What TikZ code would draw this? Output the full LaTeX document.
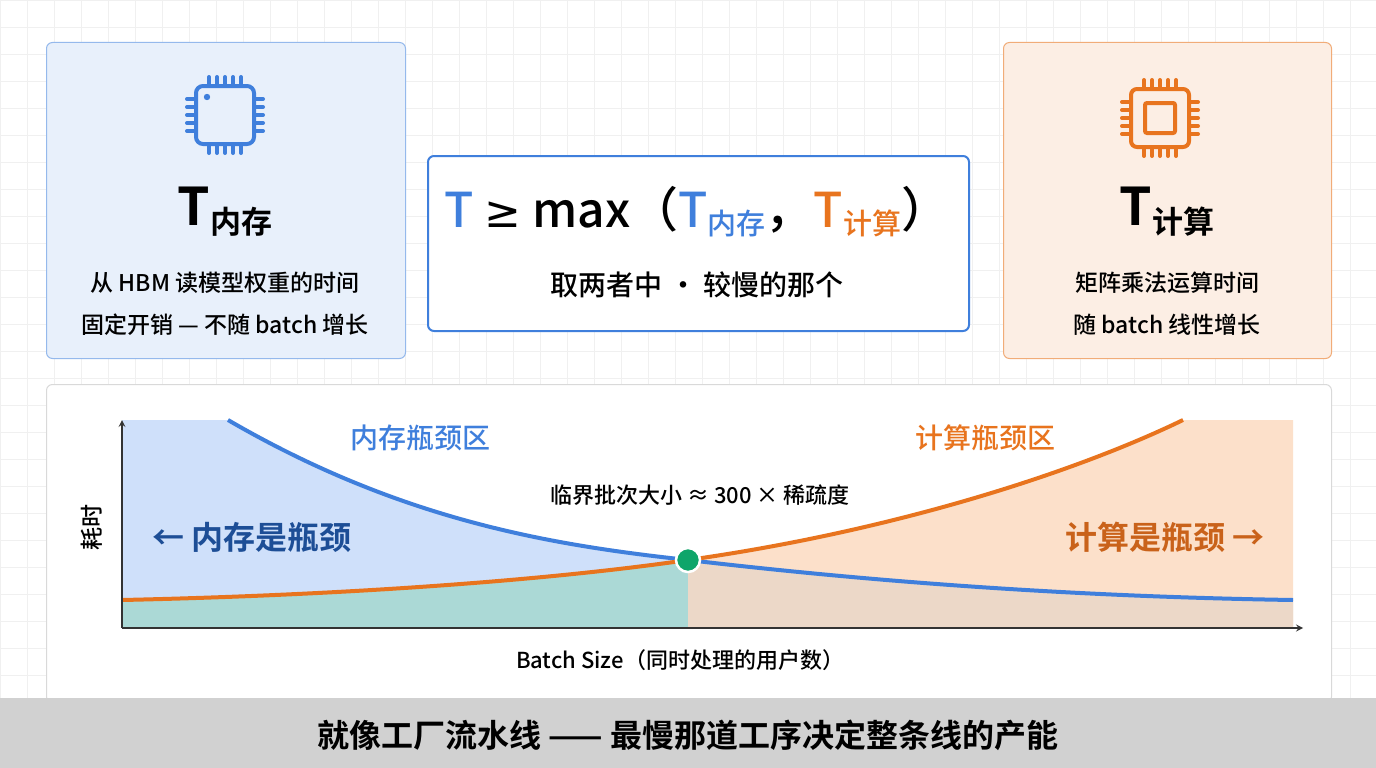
\documentclass[tikz,border=0pt]{standalone}
\usepackage{fontspec}
\setmainfont{Noto Sans CJK SC}[UprightFont={* Medium},BoldFont={* Bold}]
\newfontfamily\djv{DejaVu Sans}
\newcommand\fsz[1]{\fontsize{#1}{#1}\selectfont}
\definecolor{cblue}{HTML}{3F7FDC}
\definecolor{cdblue}{HTML}{1D4E96}
\definecolor{corange}{HTML}{E8741E}
\definecolor{cdorange}{HTML}{C9621A}
\definecolor{lblue}{HTML}{CFE0FA}
\definecolor{lorange}{HTML}{FCE0CA}
\definecolor{lteal}{HTML}{ABD9D6}
\definecolor{ltan}{HTML}{ECD8C8}
\definecolor{cgreen}{HTML}{0FA56A}
\tikzset{
 card/.style={rounded corners=6pt,line width=1pt},
 chippin/.style={line width=4pt,line cap=round},
}
\begin{document}
\begin{tikzpicture}[x=1pt,y=-1pt]
\useasboundingbox (0,0) rectangle (1376,768);
\fill[white] (0,0) rectangle (1376,768);
\foreach \k in {0,...,51}{\draw[black!6,line width=0.6pt] (\k*27,0) -- (\k*27,768);}
\foreach \k in {0,...,28}{\draw[black!6,line width=0.6pt] (0,\k*27) -- (1376,\k*27);}
% cards
\node[card,draw=cblue!55,fill=cblue!12,minimum width=359,minimum height=316,anchor=north west] (mem) at (46,42) {};
\node[card,draw=corange!60,fill=corange!12,minimum width=328,minimum height=316,anchor=north west] (cmp) at (1003,42) {};
\node[card,draw=cblue,line width=2pt,fill=white,minimum width=541,minimum height=175,anchor=north west] (eq) at (427,155) {};
\node[card,draw=black!15,fill=white,minimum width=1285,minimum height=318,anchor=north west] (panel) at (46,384) {};
% chip left
\begin{scope}[shift={(225,115)}]
\foreach \i in {-16,-8,0,8,16}{
 \draw[chippin,cblue] (\i,-28)--(\i,-38); \draw[chippin,cblue] (\i,28)--(\i,38);
 \draw[chippin,cblue] (-28,\i)--(-38,\i); \draw[chippin,cblue] (28,\i)--(38,\i);}
\draw[cblue,line width=4pt,rounded corners=7pt,fill=cblue!12] (-29,-29) rectangle (29,29);
\fill[cblue] (-18,-18) circle (3.2);
\end{scope}
% chip right
\begin{scope}[shift={(1160,118)}]
\foreach \i in {-16,-8,0,8,16}{
 \draw[chippin,corange] (\i,-28)--(\i,-38); \draw[chippin,corange] (\i,28)--(\i,38);
 \draw[chippin,corange] (-28,\i)--(-38,\i); \draw[chippin,corange] (28,\i)--(38,\i);}
\draw[corange,line width=4pt,rounded corners=6pt,fill=corange!12] (-29,-29) rectangle (29,29);
\draw[corange,line width=4pt,rounded corners=2pt] (-15,-15) rectangle (15,15);
\end{scope}
% card texts
\node (tmem) at (225,212) {\fsz{52}\bfseries T\raisebox{-8pt}{\fsz{31}内存}};
\node (m1) at (225,283) {\fsz{23}从 HBM 读模型权重的时间};
\node (m2) at (225,325) {\fsz{23}固定开销 — 不随 batch 增长};
\node (tcmp) at (1167,212) {\fsz{52}\bfseries T\raisebox{-8pt}{\fsz{31}计算}};
\node (c1) at (1167,283) {\fsz{23}矩阵乘法运算时间};
\node (c2) at (1167,325) {\fsz{23}随 batch 线性增长};
\node (eq1) at (697,212) {\fsz{48}\textcolor{cblue}{T} {\djv\fsz{44}≥} max（\textcolor{cblue}{T\raisebox{-7pt}{\fsz{29}内存}}，\textcolor{corange}{T\raisebox{-7pt}{\fsz{29}计算}}）};
\node (eq2) at (697,285) {\fsz{28}取两者中 · 较慢的那个};
% chart fills
\fill[lblue] (122,420) -- (228,420) .. controls (400,520) and (550,545) .. (688,560) -- (688,628) -- (122,628) -- cycle;
\fill[lorange] (688,560) .. controls (900,530) and (1080,470) .. (1183,420) -- (1293,420) -- (1293,628) -- (688,628) -- cycle;
\fill[lteal] (122,600) .. controls (350,595) and (550,580) .. (688,560) -- (688,628) -- (122,628) -- cycle;
\fill[ltan] (688,560) .. controls (900,585) and (1100,597) .. (1293,600) -- (1293,628) -- (688,628) -- cycle;
% curves
\draw[cblue,line width=4pt] (228,420) .. controls (400,520) and (550,545) .. (688,560) .. controls (900,585) and (1100,597) .. (1293,600);
\draw[corange,line width=4pt] (122,600) .. controls (350,595) and (550,580) .. (688,560) .. controls (900,530) and (1080,470) .. (1183,420);
% axes
\coordinate (o) at (122,628);
\coordinate (ytop) at (122,420);
\coordinate (xend) at (1303,628);
\draw[black!80,line width=2pt,->,>=stealth] (o) -- (ytop);
\draw[black!80,line width=2pt,->,>=stealth] (o) -- (xend);
\node[circle,fill=cgreen,draw=white,line width=2.5pt,minimum size=24pt,inner sep=0pt] (cross) at (688,560) {};
% labels
\node[text=cblue] (lz) at (420,438) {\fsz{28}内存瓶颈区};
\node[text=corange] (rz) at (985,438) {\fsz{28}计算瓶颈区};
\node (crit) at (700,495) {\fsz{22}临界批次大小 ≈ 300 × 稀疏度};
\node[text=cdblue] (lb) at (252,537) {\fsz{32}\bfseries ← 内存是瓶颈};
\node[text=cdorange] (rb) at (1165,537) {\fsz{32}\bfseries 计算是瓶颈 →};
\node[rotate=90] (yl) at (92,527) {\fsz{23}耗时};
\node (xl) at (680,660) {\fsz{22}Batch Size（同时处理的用户数）};
% bottom bar
\fill[black!18] (0,698) rectangle (1376,768);
\node (bar) at (688,735) {\fsz{32}\bfseries 就像工厂流水线 —— 最慢那道工序决定整条线的产能};
\end{tikzpicture}
\end{document}
